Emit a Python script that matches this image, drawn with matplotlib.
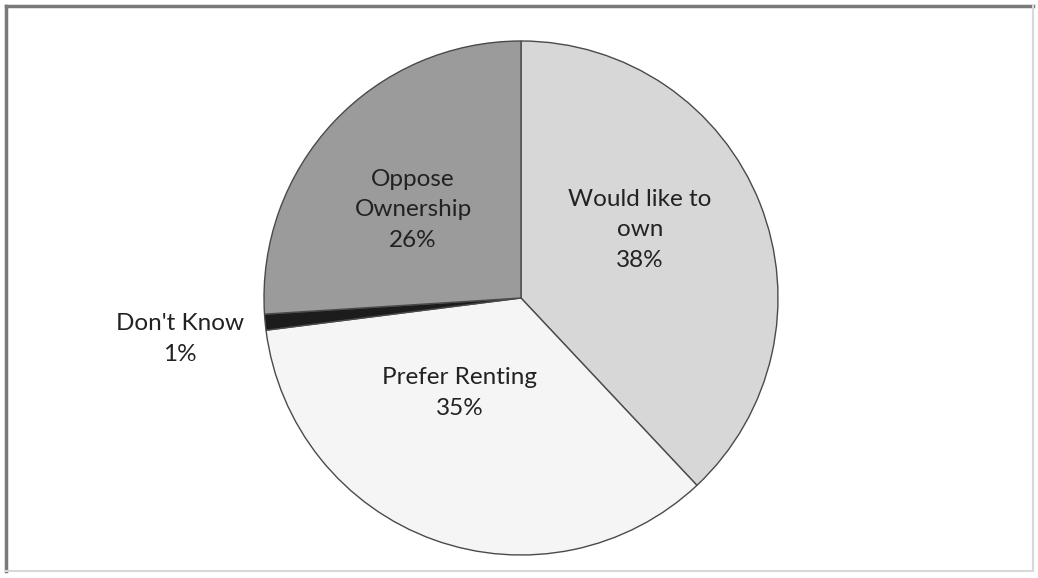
import matplotlib.pyplot as plt
from matplotlib.lines import Line2D

# survey answers, clockwise from 12 o'clock
labels = ["Would like to\nown", "Prefer Renting", "Don't Know", "Oppose\nOwnership"]
shares = [38, 35, 1, 26]
colors = ["#d7d7d7", "#f5f5f5", "#1c1c1c", "#9b9b9b"]

# where each label sits (pixels, y measured from top)
label_xy = [(640, 230), (460, 393), (180, 339), (413, 210)]

W, H = 1038, 578
fig = plt.figure(figsize=(W / 100, H / 100), dpi=100)
ax = fig.add_axes([0, 0, 1, 1])

# the chart frame: darker on top/left, faint on right/bottom
x0, x1, y0, y1 = 6, 1033, H - 6, H - 571
ax.add_line(Line2D([x0, x1], [y0, y0], color="#7a7a7a", lw=2.5))
ax.add_line(Line2D([x0, x0], [y0, y1], color="#7a7a7a", lw=2.5))
ax.add_line(Line2D([x1, x1], [y0, y1], color="#d8d8d8", lw=1.5))
ax.add_line(Line2D([x0, x1], [y1, y1], color="#d8d8d8", lw=1.5))

ax.pie(shares, colors=colors, startangle=90, counterclock=False,
       center=(521, H - 298), radius=257, frame=True,
       wedgeprops=dict(edgecolor="#4a4a4a", linewidth=1))
ax.set_xlim(0, W)
ax.set_ylim(0, H)
ax.axis("off")

for lab, s, (x, y) in zip(labels, shares, label_xy):
    ax.text(x, H - y, f"{lab}\n{s}%", ha="center", va="center",
            fontsize=17.5, family="Lato", color="#222222", linespacing=1.55)

fig.savefig("out.png", dpi=100)
